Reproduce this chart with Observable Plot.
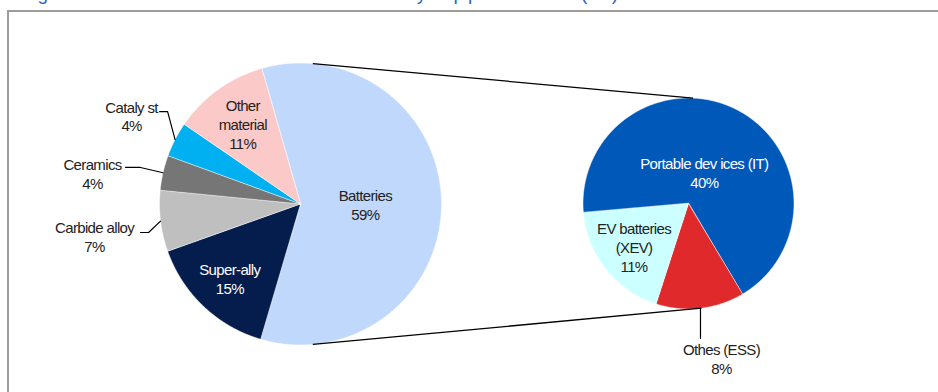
<!DOCTYPE html>
<html>
<head>
<meta charset="utf-8">
<script src="https://cdn.jsdelivr.net/npm/d3@7"></script>
<script src="https://cdn.jsdelivr.net/npm/@observablehq/plot@0.6"></script>
<style>
  html, body { margin: 0; padding: 0; background: #fff; }
  #wrap { position: relative; width: 938px; height: 392px; overflow: hidden; background: #fff; }
  #title { position: absolute; left: 14px; top: -16px; font: 19px/20px 'Liberation Sans', sans-serif; color: #2a66c4; white-space: nowrap; }
  #frame { position: absolute; left: 7px; top: 10px; width: 1000px; height: 500px; border: 2px solid #9c9c9c; box-sizing: border-box; }
  #chart { position: absolute; left: 0; top: 0; }
  #chart text { letter-spacing: -0.65px; }
</style>
</head>
<body>
<div id="wrap">
  <div id="title">Figure 1: Global cobalt demand by application (%)<span id="base" style="display:inline-block;width:0;height:0"></span></div>
  <div id="frame"></div>
  <div id="chart"></div>
</div>
<script>
// ---- data ----
const mainCategories = ["Batteries", "Super-ally", "Carbide alloy", "Ceramics", "Cataly st", "Other material"];
const mainLabels = ["Batteries", "Super-ally", "Carbide alloy", "Ceramics", "Cataly st", "Other\nmaterial"];
const mainValues = [59, 15, 7, 4, 4, 11];

const subCategories = ["Portable dev ices (IT)", "Othes (ESS)", "EV batteries (XEV)"];
const subLabels = ["Portable dev ices (IT)", "Othes (ESS)", "EV batteries\n(XEV)"];
const subValues = [40, 8, 11];

// ---- styles ----
const mainColors = ["#c0d8fb", "#041d4d", "#bfbfbf", "#767676", "#00b0f0", "#fcc9c9"];
const subColors = ["#0058b8", "#e0292b", "#ccffff"];
const whiteText = new Set(["Super-ally", "Portable dev ices (IT)"]);

// ---- layout ----
const W = 938, H = 392;
const deg = Math.PI / 180;
const mainGeo = {cx: 300, cy: 203.5, r: 141, start: -16 * deg};
const subGeo = {cx: 688, cy: 203, r: 105.5, start: -95 * deg};
const insideR = {"Batteries": 0.46, "Super-ally": 0.73, "Other material": 0.70,
                 "Portable dev ices (IT)": 0.33, "EV batteries (XEV)": 0.66};
// outside labels: offsets from slice edge point (text centre, elbow, end of leader)
const outside = {
  "Cataly st":     {text: [-43.5, -23.5], elbow: [-7.5, -28], end: [-15.5, -28]},
  "Ceramics":      {text: [-70.5, 0.7],   elbow: [-22.5, -5.3], end: [-37.5, -5.3]},
  "Carbide alloy": {text: [-66, 15.3],    elbow: [-12, 11.3], end: [-20, 11.3]},
  "Othes (ESS)":   {text: [21, 50],       elbow: [0, 30], end: [0, 30]}
};
const connectorAngles = {mainTop: 5 * deg, mainBottom: 175 * deg, subTop: 2.5 * deg, subBottom: 173 * deg};

const font = "'Liberation Sans',Arial,sans-serif";

function pt(geo, a, rr) { return [geo.cx + rr * Math.sin(a), geo.cy - rr * Math.cos(a)]; }

function build(cats, labels, vals, geo) {
  const pie = d3.pie().sort(null).value(d => d.value)
    .startAngle(geo.start).endAngle(geo.start + 2 * Math.PI);
  const arcs = pie(cats.map((c, i) => ({name: c, label: labels[i], value: vals[i]})));
  const poly = [], texts = [], leaders = [];
  arcs.forEach(a => {
    const name = a.data.name;
    poly.push({name, x: geo.cx, y: geo.cy});
    const n = Math.max(4, Math.ceil((a.endAngle - a.startAngle) / (0.5 * deg)));
    for (let k = 0; k <= n; k++) {
      const t = a.startAngle + (a.endAngle - a.startAngle) * k / n;
      const [x, y] = pt(geo, t, geo.r);
      poly.push({name, x, y});
    }
    const mid = (a.startAngle + a.endAngle) / 2;
    const text = a.data.label + "\n" + a.data.value + "%";
    if (outside[name]) {
      const o = outside[name];
      const [ex, ey] = pt(geo, mid, geo.r);
      texts.push({name, text, x: ex + o.text[0], y: ey + o.text[1], white: false});
      [[ex, ey], [ex + o.elbow[0], ey + o.elbow[1]], [ex + o.end[0], ey + o.end[1]]]
        .forEach(([x, y]) => leaders.push({name, x, y}));
    } else {
      const [x, y] = pt(geo, mid, geo.r * (insideR[name] ?? 0.6));
      texts.push({name, text, x, y, white: whiteText.has(name)});
    }
  });
  return {poly, texts, leaders};
}

const M = build(mainCategories, mainLabels, mainValues, mainGeo);
const S = build(subCategories, subLabels, subValues, subGeo);
const polys = M.poly.concat(S.poly);
const texts = M.texts.concat(S.texts);
const leaders = M.leaders.concat(S.leaders);

const [mtx, mty] = pt(mainGeo, connectorAngles.mainTop, mainGeo.r);
const [mbx, mby] = pt(mainGeo, connectorAngles.mainBottom, mainGeo.r);
const [stx, sty] = pt(subGeo, connectorAngles.subTop, subGeo.r);
const [sbx, sby] = pt(subGeo, connectorAngles.subBottom, subGeo.r);
const connectors = [
  {x1: mtx, y1: mty, x2: stx, y2: sty},
  {x1: mbx, y1: mby, x2: sbx, y2: sby}
];

const chart = Plot.plot({
  width: W, height: H, margin: 0,
  x: {domain: [0, W], range: [0, W], axis: null},
  y: {domain: [0, H], range: [0, H], axis: null},
  color: {type: "ordinal", domain: mainCategories.concat(subCategories), range: mainColors.concat(subColors)},
  style: {background: "transparent", fontFamily: font, fontSize: "15px", overflow: "visible"},
  marks: [
    Plot.line(polys, {x: "x", y: "y", z: "name", fill: "name", stroke: "white", strokeWidth: 0.5, curve: "linear-closed"}),
    Plot.link(connectors, {x1: "x1", y1: "y1", x2: "x2", y2: "y2", stroke: "#000", strokeWidth: 1.3}),
    Plot.line(leaders, {x: "x", y: "y", z: "name", stroke: "#000", strokeWidth: 1.2}),
    Plot.text(texts.filter(d => !d.white), {x: "x", y: "y", text: "text", fill: "#222", fontSize: 15, lineHeight: 1.25}),
    Plot.text(texts.filter(d => d.white), {x: "x", y: "y", text: "text", fill: "#ffffff", fontSize: 15, lineHeight: 1.25})
  ]
});
document.getElementById("chart").appendChild(chart);

// stretch the clipped title so it ends where the reference's does, with its baseline at the top edge
const t = document.getElementById("title");
const w = t.getBoundingClientRect().width;
t.style.letterSpacing = ((608 - w) / t.textContent.length) + "px";
const b = document.getElementById("base").getBoundingClientRect().bottom;
t.style.top = (parseFloat(getComputedStyle(t).top) - b) + "px";
</script>
</body>
</html>
